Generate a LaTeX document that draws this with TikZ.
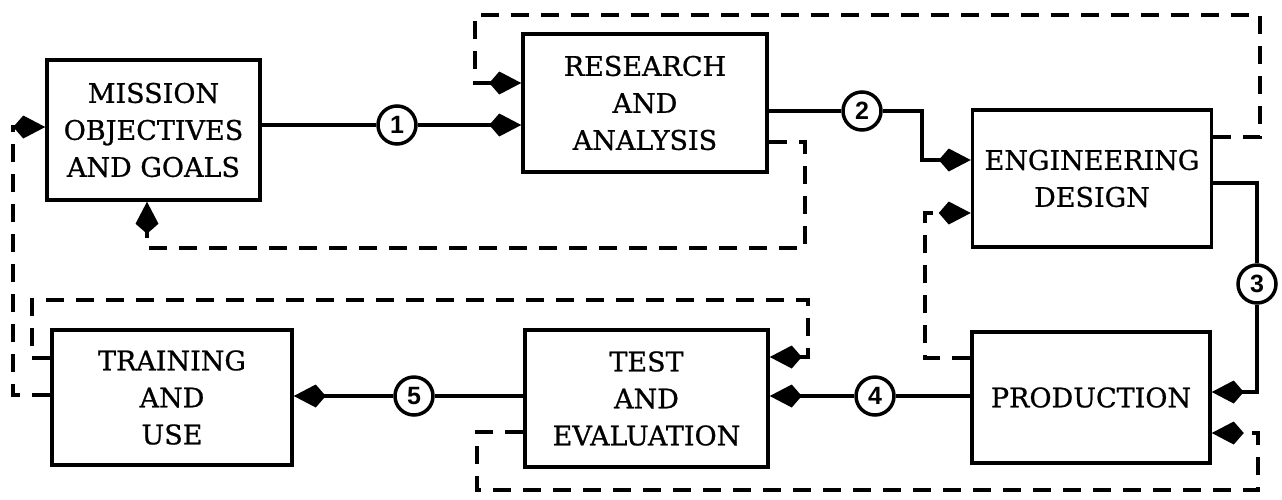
\documentclass[tikz,border=0pt]{standalone}
\usepackage{fontspec}
\setmainfont{DejaVu Serif}[FakeBold=0.8]
\newfontfamily\numfont{Liberation Sans}
\usetikzlibrary{arrows.meta}
\begin{document}
\begin{tikzpicture}[x=1pt,y=-1pt,
flecha/.style={-{Kite[length=32pt,width=23pt,inset=10pt]}},
retro/.style={dash pattern=on 18pt off 12pt}]%coordenadas en pixeles
\tikzstyle{caja}=[draw,line width=3.5pt,rectangle,align=center,inner sep=0pt,font=\fontsize{27}{37}\selectfont]% cajas de cada etapa
\tikzstyle{circulo}=[draw,line width=3.5pt,circle,inner sep=0pt,minimum size=38pt,fill=white,font=\numfont\bfseries\fontsize{25}{25}\selectfont]% numeros de las fases
\tikzset{every path/.style={line width=3.5pt}}
\useasboundingbox (0,0) rectangle (1282,499);
\node[caja,minimum width=213pt,minimum height=140pt] (mision) at (153.5,130) {MISSION\\OBJECTIVES\\AND GOALS};
\node[caja,minimum width=244pt,minimum height=138pt] (invest) at (645,103) {RESEARCH\\AND\\ANALYSIS};
\node[caja,minimum width=239pt,minimum height=137pt] (ingen) at (1092,178.5) {ENGINEERING\\DESIGN};
\node[caja,minimum width=238pt,minimum height=131pt] (prod) at (1091,397.5) {PRODUCTION};
\node[caja,minimum width=243pt,minimum height=137pt] (prueba) at (646.5,398.5) {TEST\\AND\\EVALUATION};
\node[caja,minimum width=240pt,minimum height=135pt] (entren) at (172,397.5) {TRAINING\\AND\\USE};
\node[circulo] (c1) at (397,125) {1};
\node[circulo] (c2) at (862,111) {2};
\node[circulo] (c3) at (1257,284) {3};
\node[circulo] (c4) at (875,396) {4};
\node[circulo] (c5) at (414,396) {5};
% lineas continuas
\draw (mision.east |- c1) -- (c1);
\draw[flecha] (c1) -- (c1 -| invest.west);
\coordinate (q2) at (922,160);
\draw (invest.east |- c2) -- (c2);
\draw[flecha] (c2) -| (q2) -- (q2 -| ingen.west);
\coordinate (q3) at (1257,183);
\coordinate (e3) at (1257,392);
\draw (q3 -| ingen.east) -- (q3) -- (c3);
\draw[flecha] (c3) -- (e3) -- (e3 -| prod.east);
\draw (prod.west |- c4) -- (c4);
\draw[flecha] (c4) -- (c4 -| prueba.east);
\draw (prueba.west |- c5) -- (c5);
\draw[flecha] (c5) -- (c5 -| entren.east);
% lineas punteadas (retroalimentacion)
\coordinate (a1) at (1260,137);
\coordinate (a2) at (475,15);
\coordinate (a3) at (475,83);
\draw[retro,flecha] (a1 -| ingen.east) -- (a1) |- (a2) -- (a3) -- (a3 -| invest.west);
\coordinate (b1) at (805,142);
\coordinate (b2) at (147,248);
\draw[retro,flecha] (b1 -| invest.east) -- (b1) |- (b2) -- (b2 |- mision.south);
\coordinate (p1) at (925,358);
\coordinate (p2) at (925,213);
\draw[retro,flecha] (p1 -| prod.west) -- (p1) -- (p2) -- (p2 -| ingen.west);
\coordinate (d1) at (477,432);
\coordinate (d2) at (1258,490);
\coordinate (d3) at (1258,433);
\draw[retro,flecha] (d1 -| prueba.west) -- (d1) |- (d2) -- (d3) -- (d3 -| prod.east);
\coordinate (t1) at (13,395);
\coordinate (t2) at (13,127);
\draw[retro,flecha] (t1 -| entren.west) -- (t1) -- (t2) -- (t2 -| mision.west);
\coordinate (f1) at (32,358);
\coordinate (f2) at (808,300);
\coordinate (f3) at (808,357);
\draw[retro,flecha] (f1 -| entren.west) -- (f1) |- (f2) -- (f3) -- (f3 -| prueba.east);
\end{tikzpicture}
\end{document}
